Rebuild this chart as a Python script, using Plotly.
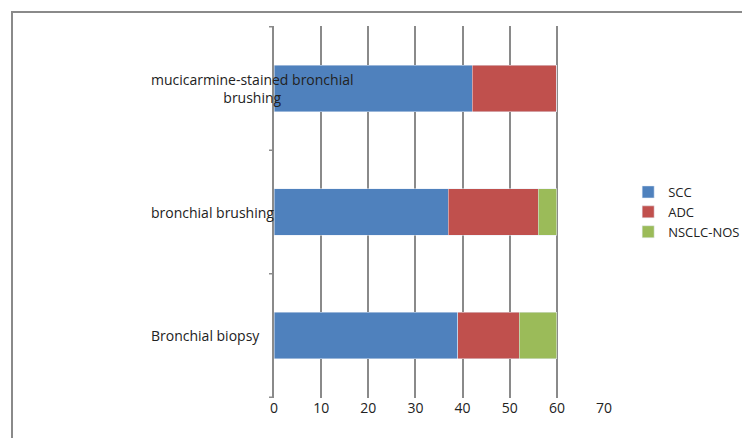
import plotly.graph_objects as go

categories = ["Bronchial biopsy", "bronchial brushing", "mucicarmine-stained bronchial<br>brushing"]
scc = [39, 37, 42]
adc = [13, 19, 18]
nos = [8, 4, 0]

fig = go.Figure()
fig.add_trace(go.Bar(y=categories, x=scc, name="SCC", orientation="h", marker_color="#4f81bd"))
fig.add_trace(go.Bar(y=categories, x=adc, name="ADC", orientation="h", marker_color="#c0504d"))
fig.add_trace(go.Bar(y=categories, x=nos, name="NSCLC-NOS", orientation="h", marker_color="#9bbb59"))

fig.update_layout(
    barmode="stack", bargap=0.62,
    width=750, height=438,
    margin=dict(l=266, r=153, t=18, b=48),
    paper_bgcolor="white", plot_bgcolor="white",
    font=dict(family="Open Sans", size=13, color="#222222"),
    legend=dict(x=1.07, y=0.5, yanchor="middle", traceorder="normal",
                font=dict(size=13), itemwidth=30),
    shapes=[dict(type="rect", xref="paper", yref="paper", x0=-262/331, x1=1+147/331,
                 y0=-44/372, y1=1+14/372, line=dict(color="#8a8a8a", width=2))],
)
fig.update_xaxes(range=[0, 70.2], dtick=10, showgrid=True, gridcolor="#8a8a8a", gridwidth=2,
                 zeroline=False, showline=False, ticks="", tickfont=dict(size=14))
fig.update_yaxes(showgrid=False, showline=True, linecolor="#8a8a8a", linewidth=2,
                 ticks="", showticklabels=False)
for i, c in enumerate(categories):
    fig.add_annotation(x=-125 / 331, xref="paper", y=c, yref="y", text=c, showarrow=False,
                       align="center", font=dict(size=14))
for i in range(4):
    fig.add_shape(type="line", xref="paper", yref="y", x0=-0.015, x1=0, y0=i - 0.5, y1=i - 0.5,
                  line=dict(color="#8a8a8a", width=1.5))
fig.write_html("out.html")
